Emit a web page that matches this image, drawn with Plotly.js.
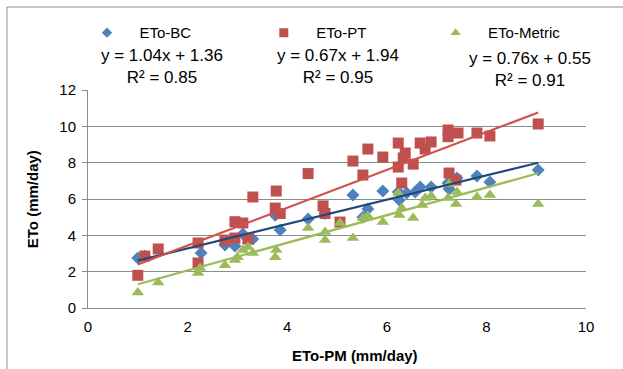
<!DOCTYPE html>
<html>
<head>
<meta charset="utf-8">
<script src="https://cdn.plot.ly/plotly-3.0.1.min.js"></script>
<style>
  html, body { margin: 0; padding: 0; background: #fff; }
  #chart { width: 623px; height: 369px; }
</style>
</head>
<body>
<div id="chart"></div>
<script>
// ---- data ----
const seriesNames = ["ETo-BC", "ETo-PT", "ETo-Metric"];

const bcX = [1.0, 1.14, 2.27, 2.75, 2.95, 3.11, 3.31, 3.76, 3.86, 4.42, 4.76, 5.32, 5.52, 5.62, 5.92, 6.23, 6.25, 6.4, 6.57, 6.67, 6.89, 7.23, 7.25, 7.41, 7.81, 8.07, 9.04];
const bcY = [2.75, 2.85, 3.03, 3.47, 3.41, 4.07, 3.8, 5.1, 4.29, 4.9, 5.2, 6.22, 5.0, 5.45, 6.44, 6.38, 5.94, 6.33, 6.38, 6.66, 6.66, 6.88, 6.55, 7.15, 7.26, 6.93, 7.59];

const ptX = [1.0, 1.14, 1.41, 2.21, 2.21, 2.75, 2.95, 3.11, 2.95, 3.21, 3.31, 3.78, 3.76, 3.86, 4.42, 4.72, 4.76, 5.06, 5.32, 5.52, 5.62, 5.92, 6.23, 6.33, 6.23, 6.3, 6.37, 6.53, 6.67, 6.77, 6.89, 7.23, 7.23, 7.43, 7.81, 8.07, 7.25, 7.39, 9.04];
const ptY = [1.8, 2.86, 3.25, 3.58, 2.48, 3.74, 4.75, 4.68, 3.85, 3.8, 6.11, 6.44, 5.5, 5.2, 7.4, 5.62, 5.2, 4.73, 8.09, 7.32, 8.75, 8.31, 9.08, 8.26, 7.76, 6.88, 8.53, 7.92, 9.08, 8.75, 9.14, 9.8, 9.43, 9.63, 9.63, 9.47, 7.43, 7.04, 10.13];

const mtX = [1.0, 1.41, 2.21, 2.25, 2.75, 2.95, 3.0, 3.11, 3.21, 3.31, 3.78, 3.76, 4.42, 4.76, 4.76, 5.06, 5.32, 5.52, 5.62, 5.92, 6.23, 6.25, 6.3, 6.53, 6.71, 6.77, 6.89, 7.23, 7.25, 7.39, 7.41, 7.81, 8.07, 9.04];
const mtY = [0.85, 1.4, 1.93, 2.2, 2.35, 2.64, 2.8, 3.19, 3.36, 3.03, 3.19, 2.8, 4.4, 4.18, 3.74, 4.68, 3.85, 4.95, 5.06, 4.73, 6.33, 5.12, 5.5, 4.95, 5.67, 6.05, 6.16, 6.05, 6.82, 5.72, 6.38, 6.11, 6.22, 5.72];

// trendline equations as printed (label order)
const eqSlopes = [1.04, 0.67, 0.76];
const eqIntercepts = [1.36, 1.94, 0.55];
const eqR2 = [0.85, 0.95, 0.91];
// which printed equation each series' drawn trendline follows
const trendEqIndex = [1, 0, 2];

const xTicks = [0, 2, 4, 6, 8, 10];
const yTicks = [0, 2, 4, 6, 8, 10, 12];
const xTitle = "ETo-PM (mm/day)";
const yTitle = "ETo (mm/day)";

// ---- styles ----
const markerColors = ["#4F81BD", "#C0504D", "#9BBB59"];
const lineColors = ["#1F497D", "#D0504D", "#9BBB59"];
const symbols = ["diamond", "square", "triangle-up"];
const sizes = [10, 11, 11];
const legendSizes = [8, 9, 9];
const FONT = "Liberation Sans, Arial, Helvetica, sans-serif";
const legendIds = ["legend", "legend2", "legend3"];
const legendX = [-0.002, 0.353, 0.698];
const legendPad = "\u00a0\u00a0\u00a0";

const xs = [bcX, ptX, mtX];
const ys = [bcY, ptY, mtY];

const traces = [];
for (let i = 0; i < 3; i++) {
  traces.push({
    type: "scatter", mode: "markers", name: seriesNames[i], showlegend: false,
    x: xs[i], y: ys[i],
    marker: { symbol: symbols[i], color: markerColors[i], size: sizes[i], line: { width: 0 } },
    hoverinfo: "x+y"
  });
}
for (let i = 0; i < 3; i++) {
  const k = trendEqIndex[i];
  const x0 = Math.min(...xs[i]), x1 = Math.max(...xs[i]);
  traces.push({
    type: "scatter", mode: "lines", showlegend: false,
    x: [x0, x1], y: [eqSlopes[k] * x0 + eqIntercepts[k], eqSlopes[k] * x1 + eqIntercepts[k]],
    line: { color: lineColors[i], width: 2.2 },
    hoverinfo: "skip"
  });
}
// legend entries (smaller symbols, as in the reference legend)
for (let i = 0; i < 3; i++) {
  traces.push({
    type: "scatter", mode: "markers", name: legendPad + seriesNames[i], legend: legendIds[i],
    x: [null], y: [null],
    marker: { symbol: symbols[i], color: markerColors[i], size: legendSizes[i], line: { width: 0 } },
    hoverinfo: "skip"
  });
}

const eqCenters = [0.149, 0.502, 0.888];
const eqTops = [1.21, 1.21, 1.195];
const annotations = [];
for (let i = 0; i < 3; i++) {
  const sign = eqIntercepts[i] >= 0 ? "+" : "−";
  annotations.push({
    xref: "paper", yref: "paper", x: eqCenters[i], y: eqTops[i],
    xanchor: "center", yanchor: "top", showarrow: false, align: "center",
    text: "y = " + eqSlopes[i].toFixed(2) + "x " + sign + " " + Math.abs(eqIntercepts[i]).toFixed(2) +
          "<br>R² = " + eqR2[i].toFixed(2),
    font: { family: FONT, size: 17, color: "#000" }
  });
}
annotations.push({
  xref: "paper", yref: "paper", x: 0.536, y: -0.216, xanchor: "center", yanchor: "middle",
  showarrow: false, text: "<b>" + xTitle + "</b>", font: { family: FONT, size: 15, color: "#000" }
});
annotations.push({
  xref: "paper", yref: "paper", x: -0.112, y: 0.5, xanchor: "center", yanchor: "middle",
  textangle: -90, showarrow: false, text: "<b>" + yTitle + "</b>", font: { family: FONT, size: 15, color: "#000" }
});

const layout = {
  width: 623, height: 369,
  margin: { l: 88, r: 37, t: 90, b: 61 },
  paper_bgcolor: "#fff", plot_bgcolor: "#fff",
  font: { family: FONT, size: 15, color: "#000" },
  showlegend: true,
  xaxis: {
    range: [0, 10], tickvals: xTicks, ticktext: xTicks.map(String),
    showgrid: false, zeroline: false, showline: true, linecolor: "#8c8c8c", linewidth: 1,
    ticks: "", ticklabelstandoff: 5, tickfont: { family: FONT, size: 15 },
    fixedrange: true
  },
  yaxis: {
    range: [0, 12], tickvals: yTicks, ticktext: yTicks.map(String),
    showgrid: true, gridcolor: "#8c8c8c", gridwidth: 1,
    zeroline: false, showline: true, linecolor: "#8c8c8c", linewidth: 1,
    ticks: "outside", ticklen: 5, tickcolor: "#8c8c8c", ticklabelstandoff: 3,
    tickfont: { family: FONT, size: 15 },
    fixedrange: true
  },
  annotations: annotations,
  shapes: [
    { type: "line", xref: "paper", yref: "paper", x0: -0.1627, x1: -0.1627, y0: -0.5, y1: 1.3807,
      line: { color: "#8c8c8c", width: 1 }, layer: "above" },
    { type: "line", xref: "paper", yref: "paper", x0: -0.1627, x1: 1.2, y0: 1.3807, y1: 1.3807,
      line: { color: "#8c8c8c", width: 1 }, layer: "above" }
  ]
};
for (let i = 0; i < 3; i++) {
  layout[legendIds[i]] = {
    orientation: "h", x: legendX[i], y: 1.262, xanchor: "left", yanchor: "middle",
    font: { family: FONT, size: 15, color: "#000" },
    bgcolor: "rgba(0,0,0,0)", borderwidth: 0
  };
}

Plotly.newPlot("chart", traces, layout, { displayModeBar: false, staticPlot: true });
</script>
</body>
</html>
